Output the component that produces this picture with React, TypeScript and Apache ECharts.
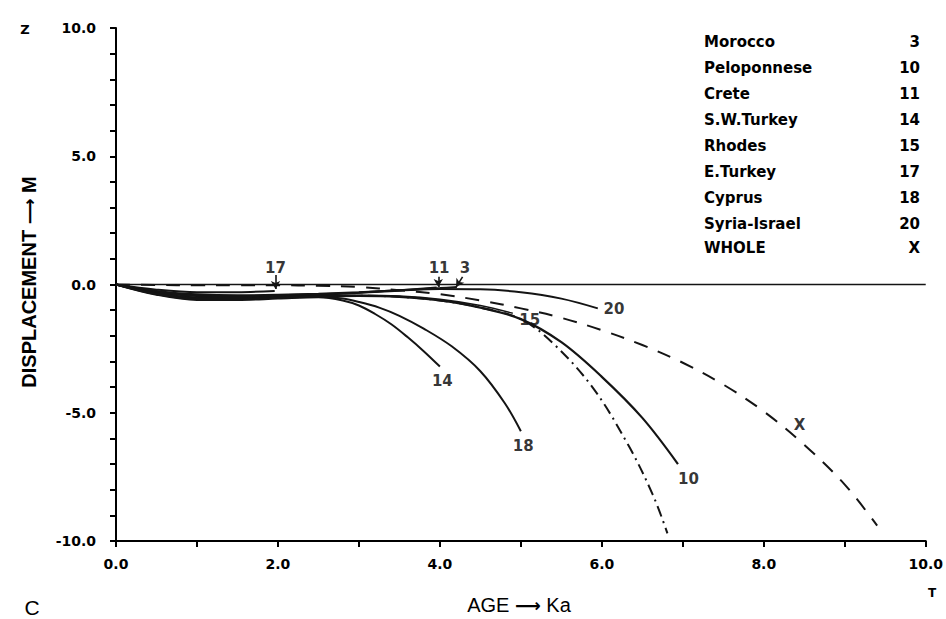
import React, { useEffect, useRef } from "react";
import * as echarts from "echarts";

// ---------- legend table ----------
const legendNames = ["Morocco", "Peloponnese", "Crete", "S.W.Turkey", "Rhodes", "E.Turkey", "Cyprus", "Syria-Israel", "WHOLE"];
const legendCodes = ["3", "10", "11", "14", "15", "17", "18", "20", "X"];

// ---------- curves (age Ka, displacement m) ----------
const age17 = [0, 0.5, 1.0, 1.5, 1.96];
const disp17 = [0, -0.2, -0.3, -0.3, -0.25];

const age11 = [0, 0.5, 1.0, 1.5, 2.0, 2.5, 3.0, 3.5, 3.96];
const disp11 = [0, -0.28, -0.42, -0.45, -0.42, -0.38, -0.32, -0.22, -0.12];

const age3 = [0, 0.5, 1.0, 1.5, 2.0, 2.5, 3.0, 3.5, 4.0, 4.21];
const disp3 = [0, -0.25, -0.38, -0.42, -0.4, -0.36, -0.3, -0.22, -0.14, -0.1];

const age20 = [0, 0.5, 1.0, 1.5, 2.0, 2.5, 3.0, 3.5, 4.0, 4.5, 5.0, 5.5, 5.95];
const disp20 = [0, -0.3, -0.45, -0.47, -0.44, -0.4, -0.32, -0.24, -0.18, -0.19, -0.3, -0.55, -0.93];

const age15 = [0, 0.5, 1.0, 1.5, 2.0, 2.5, 3.0, 3.5, 4.0, 4.5, 4.9];
const disp15 = [0, -0.33, -0.5, -0.52, -0.48, -0.44, -0.42, -0.45, -0.58, -0.82, -1.12];

const age10 = [0, 0.5, 1.0, 1.5, 2.0, 2.5, 3.0, 3.5, 4.0, 4.5, 5.0, 5.5, 6.0, 6.5, 6.94];
const disp10 = [0, -0.35, -0.53, -0.55, -0.5, -0.46, -0.44, -0.48, -0.62, -0.9, -1.35, -2.25, -3.6, -5.2, -7.0];

const ageDashDot = [0, 0.5, 1.0, 1.5, 2.0, 2.5, 3.0, 3.5, 4.0, 4.5, 5.0, 5.4, 5.89, 6.33, 6.63, 6.81];
const dispDashDot = [0, -0.35, -0.53, -0.55, -0.5, -0.46, -0.44, -0.48, -0.62, -0.9, -1.35, -2.3, -4.03, -6.28, -8.2, -9.7];

const age14 = [0, 0.5, 1.0, 1.5, 2.0, 2.5, 2.8, 3.0, 3.2, 3.4, 3.6, 3.8, 4.0];
const disp14 = [0, -0.4, -0.6, -0.6, -0.55, -0.5, -0.62, -0.82, -1.15, -1.55, -2.05, -2.6, -3.2];

const age18 = [0, 0.5, 1.0, 1.5, 2.0, 2.5, 2.8, 3.0, 3.25, 3.5, 3.8, 4.15, 4.5, 4.8, 5.0];
const disp18 = [0, -0.38, -0.57, -0.57, -0.52, -0.47, -0.55, -0.68, -0.9, -1.22, -1.72, -2.42, -3.38, -4.62, -5.72];

const ageWhole = [0, 0.5, 1.0, 1.5, 2.0, 2.5, 3.0, 3.5, 4.0, 4.5, 5.0, 5.5, 6.0, 6.5, 7.0, 7.5, 8.0, 8.5, 9.0, 9.4];
const dispWhole = [0, -0.02, -0.03, -0.03, -0.03, -0.05, -0.1, -0.22, -0.38, -0.62, -0.93, -1.3, -1.78, -2.36, -3.05, -3.9, -4.95, -6.25, -7.8, -9.4];

const ageZero = [0, 10];
const dispZero = [0, 0];

// ---------- curve labels ----------
const labelNames = ["20", "15", "14", "18", "10", "X", "17", "11", "3"];
const labelAge = [6.15, 5.11, 4.03, 5.03, 7.07, 8.44, 1.97, 3.99, 4.31];
const labelDisp = [-0.96, -1.38, -3.76, -6.3, -7.58, -5.48, 0.64, 0.64, 0.64];

// ---------- arrows (start / end) ----------
const arrowFromAge = [1.97, 3.98, 4.28];
const arrowFromDisp = [0.37, 0.3, 0.3];
const arrowToAge = [1.97, 3.98, 4.2];
const arrowToDisp = [-0.18, -0.1, -0.1];

// ---------- axis ticks ----------
const xMin = 0, xMax = 10, xInterval = 1;
const yMin = -10, yMax = 10, yInterval = 1;

const zip = (xs: number[], ys: number[]) => xs.map((x, i) => [x, ys[i]]);

const INK = "#141414";
const LABEL_FONT = "DejaVu Sans";

function curve(name: string, xs: number[], ys: number[], type: any = "solid", width = 2) {
  return {
    name,
    type: "line",
    data: zip(xs, ys),
    smooth: 0.35,
    symbol: "none",
    silent: true,
    lineStyle: { color: INK, width, type },
  };
}

const center = { textAlign: "center", textVerticalAlign: "middle", align: "center", verticalAlign: "middle" };

export default function App() {
  const ref = useRef<HTMLDivElement>(null);

  useEffect(() => {
    if (!ref.current) return;
    const chart = echarts.init(ref.current, null, { renderer: "svg" });

    const legendGraphics: any[] = [];
    legendNames.forEach((n, i) => {
      const y = 42 + i * 26 - (i >= 8 ? 2 : 0);
      legendGraphics.push({
        type: "text",
        x: 704,
        y,
        style: { text: n, font: `bold 15px "${LABEL_FONT}"`, fill: "#000", textAlign: "left", textVerticalAlign: "middle", align: "left", verticalAlign: "middle" },
      });
      legendGraphics.push({
        type: "text",
        x: 920,
        y,
        style: { text: legendCodes[i], font: `bold 15px "${LABEL_FONT}"`, fill: "#000", textAlign: "right", textVerticalAlign: "middle", align: "right", verticalAlign: "middle" },
      });
    });

    const option: any = {
      animation: false,
      backgroundColor: "#ffffff",
      grid: { left: 116, right: 14, top: 28, bottom: 78, containLabel: false },
      xAxis: {
        type: "value",
        min: xMin,
        max: xMax,
        interval: xInterval,
        axisLine: { show: true, onZero: false, lineStyle: { color: "#000", width: 2 } },
        axisTick: { show: true, inside: false, length: 6, lineStyle: { color: "#000", width: 2 } },
        axisLabel: {
          margin: 16,
          color: "#000",
          fontFamily: LABEL_FONT,
          fontWeight: "bold",
          fontSize: 14,
          formatter: (v: number) => (Math.round(v) % 2 === 0 ? v.toFixed(1) : ""),
        },
        splitLine: { show: false },
      },
      yAxis: {
        type: "value",
        min: yMin,
        max: yMax,
        interval: yInterval,
        axisLine: { show: true, onZero: false, lineStyle: { color: "#000", width: 2 } },
        axisTick: { show: true, inside: false, length: 6, lineStyle: { color: "#000", width: 2 } },
        axisLabel: {
          margin: 20,
          color: "#000",
          fontFamily: LABEL_FONT,
          fontWeight: "bold",
          fontSize: 14,
          formatter: (v: number) => (Math.round(v) % 5 === 0 ? v.toFixed(1) : ""),
        },
        splitLine: { show: false },
      },
      series: [
        curve("zero", ageZero, dispZero, "solid", 1.5),
        curve("E.Turkey", age17, disp17),
        curve("Crete", age11, disp11),
        curve("Morocco", age3, disp3),
        curve("Syria-Israel", age20, disp20),
        curve("Rhodes", age15, disp15, "solid", 1.6),
        curve("Peloponnese", age10, disp10, "solid", 2.2),
        curve("dash-dot", ageDashDot, dispDashDot, [11, 5, 2, 5], 2),
        curve("S.W.Turkey", age14, disp14),
        curve("Cyprus", age18, disp18),
        {
          ...curve("WHOLE", ageWhole, dispWhole, [14, 11], 2),
          markLine: {
            silent: true,
            symbol: ["none", "arrow"],
            symbolSize: [7, 8],
            label: { show: false },
            lineStyle: { color: INK, width: 1.6, type: "solid" },
            data: arrowFromAge.map((a, i) => [
              { coord: [a, arrowFromDisp[i]] },
              { coord: [arrowToAge[i], arrowToDisp[i]] },
            ]),
          },
        },
        {
          name: "labels",
          type: "scatter",
          silent: true,
          symbolSize: 0,
          data: labelNames.map((n, i) => ({ name: n, value: [labelAge[i], labelDisp[i]] })),
          label: {
            show: true,
            position: "inside",
            formatter: "{b}",
            color: "#000",
            fontFamily: LABEL_FONT,
            fontWeight: "bold",
            fontSize: 15,
          },
        },
      ],
      graphic: [
        {
          type: "text",
          x: 25,
          y: 29,
          style: { text: "Z", font: `bold 13px "${LABEL_FONT}"`, fill: "#000", ...center },
        },
        {
          type: "text",
          x: 29,
          y: 282,
          rotation: Math.PI / 2,
          style: {
            text: "{t|DISPLACEMENT\u00a0}{a|⟶}{t|\u00a0M}",
            fill: "#000",
            ...center,
            rich: {
              t: { fontFamily: "Liberation Sans", fontWeight: "bold", fontSize: 20, fill: "#000", color: "#000" },
              a: { fontFamily: "DejaVu Sans", fontWeight: "bold", fontSize: 18, fill: "#000", color: "#000" },
            },
          },
        },
        {
          type: "text",
          x: 519,
          y: 605,
          style: {
            text: "{t|AGE\u00a0}{a|⟶}{t|\u00a0Ka}",
            fill: "#000",
            ...center,
            rich: {
              t: { fontFamily: "Liberation Sans", fontSize: 20, fill: "#000", color: "#000" },
              a: { fontFamily: "DejaVu Sans", fontWeight: "bold", fontSize: 18, fill: "#000", color: "#000" },
            },
          },
        },
        {
          type: "text",
          x: 932,
          y: 593,
          style: { text: "T", font: `bold 12px "${LABEL_FONT}"`, fill: "#000", ...center },
        },
        {
          type: "text",
          x: 32,
          y: 607,
          style: { text: "C", font: '21px "Liberation Sans"', fill: "#000", ...center },
        },
        ...legendGraphics,
      ],
    };

    chart.setOption(option);
    return () => chart.dispose();
  }, []);

  return (
    <div
      ref={ref}
      style={{ position: "absolute", left: 0, top: 0, width: 946, height: 619, background: "#fff" }}
    />
  );
}
